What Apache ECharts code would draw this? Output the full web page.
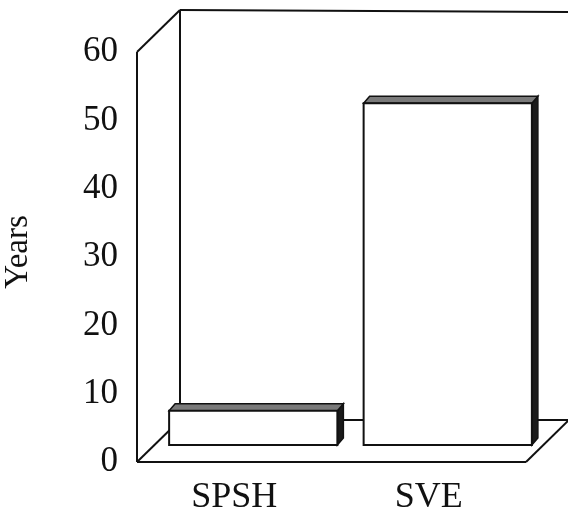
<!DOCTYPE html>
<html>
<head>
<meta charset="utf-8">
<script src="https://cdn.jsdelivr.net/npm/echarts@6/dist/echarts.min.js"></script>
<style>html,body{margin:0;padding:0;background:#fff}#c{width:568px;height:512px}</style>
</head>
<body>
<div id="c"></div>
<script>
var categories = ['SPSH', 'SVE'];
var years = [5, 50];
var yMin = 0, yMax = 60, yStep = 10;
var axisTitle = 'Years';

var FONT = '"Liberation Serif","DejaVu Serif",serif';
var WALL = [43, -42];   // depth of back wall
var BAR = [19, -17];    // depth plane of bars
var BOX = [6, -7];      // 3D thickness of bar

var chart = echarts.init(document.getElementById('c'), null, {renderer: 'canvas'});

function frameItem(params, api) {
  var cs = params.coordSys;
  var x0 = cs.x, x1 = cs.x + cs.width, y0 = cs.y, y1 = cs.y + cs.height;
  var dx = WALL[0], dy = WALL[1];
  var st = {stroke: '#111', lineWidth: 2, fill: null};
  function ln(a, b, c, d) { return {type: 'line', shape: {x1: a, y1: b, x2: c, y2: d}, style: st}; }
  return {type: 'group', children: [
    ln(x0, y0, x0, y1),
    ln(x0, y1, x1, y1),
    ln(x0, y0, x0 + dx, y0 + dy),
    ln(x0 + dx, y0 + dy, x0 + dx, y1 + dy),
    ln(x0 + dx, y0 + dy, x1 + dx + 10, y0 + dy + 2),
    ln(x0, y1, x0 + dx, y1 + dy),
    ln(x0 + dx, y1 + dy, x1 + dx + 10, y1 + dy),
    ln(x1, y1, x1 + dx, y1 + dy)
  ]};
}

function barItem(params, api) {
  var i = api.value(0), v = api.value(1);
  var base = api.coord([i, 0]);
  var top = api.coord([i, v]);
  var w = api.size([1, 0])[0] * 0.865;
  var l = base[0] - w / 2 + BAR[0], r = base[0] + w / 2 + BAR[0];
  var b = base[1] + BAR[1], t = top[1] + BAR[1];
  var tx = BOX[0], ty = BOX[1];
  return {type: 'group', children: [
    {type: 'polygon', shape: {points: [[r, t], [r + tx, t + ty], [r + tx, b + ty], [r, b]]},
     style: {fill: '#1a1a1a', stroke: '#111', lineWidth: 1.5}},
    {type: 'polygon', shape: {points: [[l, t], [l + tx, t + ty], [r + tx, t + ty], [r, t]]},
     style: {fill: '#7a7a7a', stroke: '#111', lineWidth: 1.5}},
    {type: 'rect', shape: {x: l, y: t, width: r - l, height: b - t},
     style: {fill: '#fff', stroke: '#111', lineWidth: 2}}
  ]};
}

chart.setOption({
  animation: false,
  backgroundColor: '#fff',
  grid: {left: 137, right: 42, top: 52, bottom: 50, containLabel: false, outerBoundsMode: 'none'},
  xAxis: {
    type: 'category', data: categories,
    axisLine: {show: false}, axisTick: {show: false},
    axisLabel: {color: '#111', fontFamily: FONT, fontSize: 36, margin: 18}
  },
  yAxis: {
    type: 'value', min: yMin, max: yMax, interval: yStep,
    name: axisTitle, nameLocation: 'middle', nameRotate: 90, nameGap: 102,
    nameTextStyle: {color: '#111', fontFamily: FONT, fontSize: 33, padding: [0, 0, 0, 10]},
    axisLine: {show: false}, axisTick: {show: false}, splitLine: {show: false},
    axisLabel: {color: '#111', fontFamily: FONT, fontSize: 35, margin: 19, padding: [5, 0, 0, 0]}
  },
  series: [
    {type: 'custom', data: [[0, 0]], renderItem: frameItem, z: 1, silent: true},
    {type: 'custom', data: years.map(function (v, i) { return [i, v]; }), renderItem: barItem, z: 2,
     encode: {x: 0, y: 1}}
  ]
});
</script>
</body>
</html>
